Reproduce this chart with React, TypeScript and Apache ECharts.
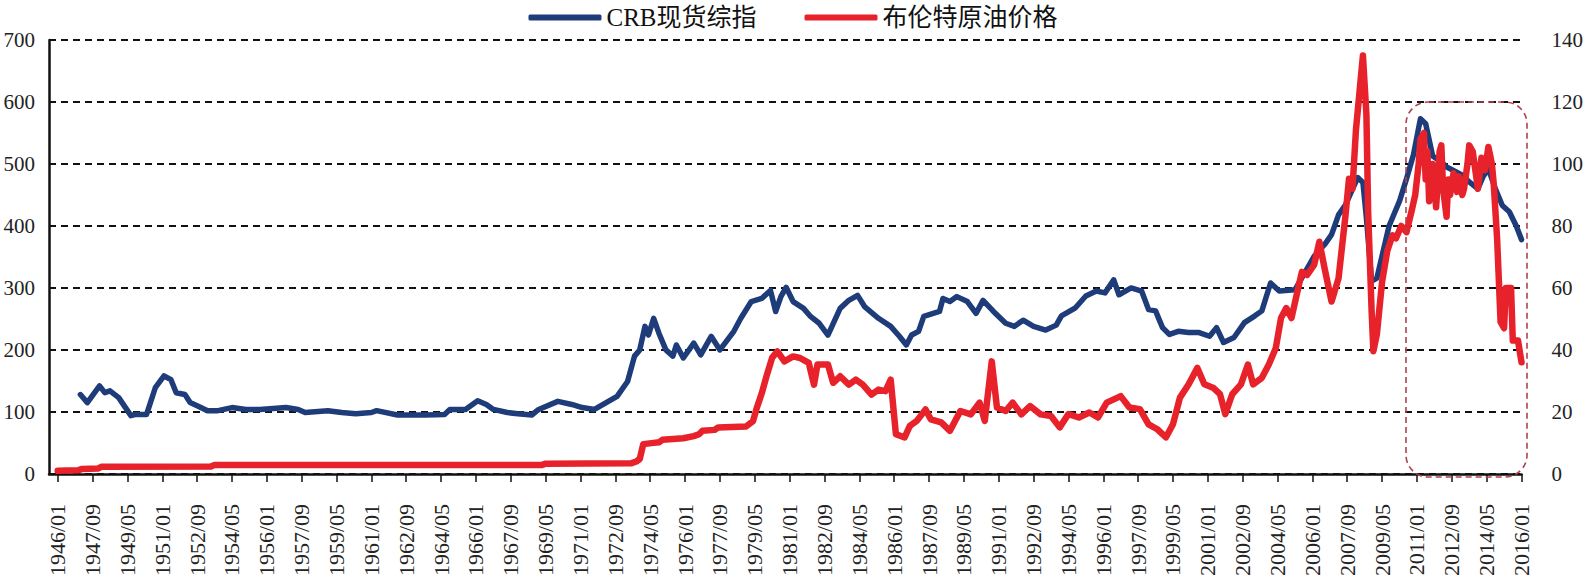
import React, { useEffect, useRef } from "react";
import * as echarts from "echarts";

// Monthly categories: axis starts a few months before the first labelled tick (1946/01)
const months: string[] = [];
for (let y = 1945; y <= 2016; y++) {
  for (let m = 1; m <= 12; m++) {
    if (y === 1945 && m < 8) continue;
    if (y === 2016 && m > 1) break;
    months.push(`${y}/${String(m).padStart(2, "0")}`);
  }
}
const FIRST_LABEL_INDEX = 5; // 1946/01
const LABEL_STEP = 20; // every 20 months

const legendNames = ["CRB现货综指", "布伦特原油价格"];

// CRB spot index (left axis)
const crbData: [string, number][] = [
  ["1947/02", 128], ["1947/06", 115], ["1948/01", 142], ["1948/04", 131], ["1948/07", 134],
  ["1948/12", 123], ["1949/07", 94], ["1949/10", 96], ["1950/04", 96], ["1950/09", 139],
  ["1951/02", 158], ["1951/06", 152], ["1951/09", 131], ["1952/02", 128], ["1952/05", 115],
  ["1952/09", 110], ["1953/03", 102], ["1953/09", 102], ["1954/05", 107], ["1955/01", 104],
  ["1955/09", 104], ["1956/12", 107], ["1957/07", 104], ["1957/11", 99], ["1958/12", 102],
  ["1959/08", 99], ["1960/04", 97], ["1961/01", 99], ["1961/04", 102], ["1962/04", 95],
  ["1963/08", 95], ["1964/07", 96], ["1964/10", 104], ["1965/07", 104], ["1966/02", 118],
  ["1966/07", 112], ["1966/11", 104], ["1967/07", 99], ["1968/01", 97], ["1968/09", 95],
  ["1969/01", 104], ["1969/12", 117], ["1970/08", 112], ["1971/02", 107], ["1971/09", 104],
  ["1972/05", 117], ["1972/10", 125], ["1973/04", 149], ["1973/08", 190], ["1973/11", 200],
  ["1974/02", 238], ["1974/04", 224], ["1974/07", 251], ["1974/10", 227], ["1975/02", 200],
  ["1975/06", 190], ["1975/08", 208], ["1975/12", 187], ["1976/06", 211], ["1976/10", 192],
  ["1977/04", 222], ["1977/09", 200], ["1978/05", 230], ["1978/09", 251], ["1979/03", 278],
  ["1979/09", 283], ["1980/02", 296], ["1980/05", 262], ["1980/08", 286], ["1980/11", 301],
  ["1981/03", 278], ["1981/09", 267], ["1982/01", 254], ["1982/06", 243], ["1982/11", 224],
  ["1983/06", 267], ["1983/11", 280], ["1984/04", 288], ["1984/08", 270], ["1985/04", 251],
  ["1985/11", 238], ["1986/04", 222], ["1986/08", 208], ["1986/11", 224], ["1987/03", 230],
  ["1987/06", 254], ["1988/03", 262], ["1988/05", 283], ["1988/09", 278], ["1989/01", 286],
  ["1989/07", 278], ["1989/12", 259], ["1990/04", 280], ["1990/10", 262], ["1991/05", 243],
  ["1991/10", 238], ["1992/03", 248], ["1992/09", 238], ["1993/04", 232], ["1993/10", 240],
  ["1994/01", 255], ["1994/09", 268], ["1995/03", 287], ["1995/09", 295], ["1996/02", 292],
  ["1996/07", 313], ["1996/10", 289], ["1997/05", 300], ["1997/11", 295], ["1998/03", 265],
  ["1998/07", 263], ["1998/11", 236], ["1999/03", 225], ["1999/08", 230], ["2000/02", 228],
  ["2000/08", 228], ["2001/02", 222], ["2001/06", 236], ["2001/10", 212], ["2002/04", 220],
  ["2002/10", 244], ["2003/04", 255], ["2003/08", 263], ["2004/01", 308], ["2004/06", 295],
  ["2005/03", 297], ["2006/02", 351], ["2006/08", 370], ["2006/12", 386], ["2007/04", 418],
  ["2007/08", 434], ["2007/11", 453], ["2008/03", 478], ["2008/06", 470], ["2008/08", 413],
  ["2008/11", 311], ["2009/02", 316], ["2009/06", 364], ["2009/09", 400], ["2009/12", 420],
  ["2010/03", 440], ["2010/07", 476], ["2010/11", 515], ["2011/03", 573], ["2011/06", 565],
  ["2011/10", 513], ["2012/03", 503], ["2012/06", 495], ["2012/11", 488], ["2013/03", 482],
  ["2013/07", 471], ["2013/12", 460], ["2014/03", 480], ["2014/06", 492], ["2014/10", 460],
  ["2015/02", 433], ["2015/06", 423], ["2015/10", 400], ["2016/01", 378],
];

// Brent crude price (right axis)
const brentData: [string, number][] = [
  ["1946/01", 1.0], ["1946/07", 1.1], ["1947/01", 1.2], ["1947/03", 1.6], ["1947/12", 1.7],
  ["1948/02", 2.3], ["1953/05", 2.4], ["1953/07", 2.9], ["1969/03", 2.9], ["1969/05", 3.3],
  ["1973/06", 3.4], ["1973/09", 4.0], ["1973/11", 4.8], ["1974/01", 9.6], ["1974/07", 10.0],
  ["1974/10", 10.2], ["1974/12", 11.0], ["1975/12", 11.5], ["1976/06", 12.2], ["1976/09", 12.8],
  ["1976/11", 13.9], ["1977/06", 14.2], ["1977/08", 15.0], ["1978/12", 15.3], ["1979/04", 17.0],
  ["1979/06", 21.0], ["1979/09", 26.0], ["1979/12", 32.0], ["1980/03", 37.5], ["1980/06", 39.5],
  ["1980/10", 36.3], ["1981/03", 37.9], ["1981/07", 37.4], ["1981/12", 35.8], ["1982/03", 28.8],
  ["1982/05", 35.3], ["1982/11", 35.3], ["1983/02", 29.4], ["1983/06", 31.5], ["1983/11", 28.8],
  ["1984/03", 30.4], ["1984/07", 28.8], ["1984/12", 25.6], ["1985/04", 27.2], ["1985/08", 26.7],
  ["1985/11", 30.4], ["1986/02", 12.8], ["1986/07", 11.8], ["1986/10", 15.5], ["1987/02", 17.1],
  ["1987/07", 20.8], ["1987/10", 17.6], ["1988/04", 16.6], ["1988/09", 13.9], ["1989/03", 20.3],
  ["1989/09", 19.2], ["1990/02", 23.0], ["1990/05", 17.1], ["1990/09", 36.3], ["1990/12", 21.4],
  ["1991/05", 20.3], ["1991/09", 23.0], ["1992/02", 19.2], ["1992/07", 21.9], ["1993/01", 19.2],
  ["1993/07", 18.7], ["1993/12", 15.0], ["1994/05", 19.3], ["1994/11", 18.2], ["1995/05", 19.8],
  ["1995/10", 18.2], ["1996/03", 23.0], ["1996/11", 25.1], ["1997/04", 21.4], ["1997/10", 20.9],
  ["1998/03", 16.0], ["1998/08", 14.4], ["1999/01", 11.8], ["1999/05", 16.0], ["1999/09", 24.6],
  ["2000/02", 28.9], ["2000/07", 34.2], ["2000/11", 28.9], ["2001/04", 27.8], ["2001/08", 25.7],
  ["2001/11", 19.3], ["2002/03", 25.7], ["2002/08", 28.9], ["2002/12", 35.3], ["2003/03", 28.9],
  ["2003/08", 31.0], ["2003/12", 35.3], ["2004/04", 40.6], ["2004/07", 50.3], ["2004/10", 53.5],
  ["2005/01", 50.3], ["2005/04", 57.8], ["2005/07", 65.2], ["2005/10", 64.2], ["2006/02", 67.4],
  ["2006/05", 74.9], ["2006/08", 66.3], ["2006/12", 55.6], ["2007/04", 63.1], ["2007/08", 83.4],
  ["2007/10", 95.2], ["2007/12", 92.0], ["2008/02", 111.0], ["2008/05", 129.0], ["2008/06", 135.0],
  ["2008/08", 116.0], ["2008/09", 84.5], ["2008/11", 52.4], ["2008/12", 39.6], ["2009/02", 45.0],
  ["2009/05", 62.0], ["2009/08", 72.0], ["2009/11", 77.0], ["2010/01", 76.0], ["2010/04", 80.0],
  ["2010/07", 78.0], ["2010/10", 85.0], ["2010/12", 90.0], ["2011/02", 100.0], ["2011/03", 108.0],
  ["2011/05", 110.0], ["2011/06", 95.0], ["2011/07", 104.0], ["2011/08", 88.0], ["2011/10", 100.0],
  ["2011/12", 86.0], ["2012/02", 104.0], ["2012/03", 106.0], ["2012/04", 92.0], ["2012/06", 83.0],
  ["2012/07", 95.0], ["2012/08", 90.0], ["2012/10", 97.0], ["2012/12", 91.0], ["2013/01", 96.0],
  ["2013/03", 90.0], ["2013/04", 92.0], ["2013/06", 100.0], ["2013/07", 106.0], ["2013/09", 104.0],
  ["2013/11", 96.0], ["2013/12", 92.0], ["2014/02", 102.0], ["2014/04", 98.0], ["2014/06", 105.5],
  ["2014/08", 100.0], ["2014/09", 94.0], ["2014/11", 76.0], ["2015/01", 49.0], ["2015/03", 47.0],
  ["2015/04", 60.0], ["2015/07", 60.0], ["2015/08", 43.0], ["2015/11", 43.0], ["2016/01", 36.0],
];

const SERIF = "'Liberation Serif', 'Times New Roman', 'Noto Sans CJK SC', serif";
const BLUE = "#1F3C7A";
const RED = "#E8222B";

const showLabel = (i: number) => i >= FIRST_LABEL_INDEX && (i - FIRST_LABEL_INDEX) % LABEL_STEP === 0;

export default function App() {
  const ref = useRef<HTMLDivElement>(null);
  useEffect(() => {
    if (!ref.current) return;
    const chart = echarts.init(ref.current, undefined, { renderer: "svg" });
    chart.setOption({
      animation: false,
      backgroundColor: "#ffffff",
      grid: { left: 49, right: 63, top: 40, bottom: 103, containLabel: false },
      legend: {
        top: 0,
        left: "center",
        icon: "roundRect",
        itemWidth: 73,
        itemHeight: 6,
        itemGap: 48,
        textStyle: { fontSize: 25, fontFamily: SERIF, color: "#111" },
        data: legendNames,
      },
      xAxis: {
        type: "category",
        data: months,
        boundaryGap: false,
        axisLine: { show: true, lineStyle: { color: "#111", width: 2.5 } },
        axisTick: { show: true, interval: (i: number) => showLabel(i), length: 8, lineStyle: { color: "#111", width: 1.5 } },
        axisLabel: {
          interval: (i: number) => showLabel(i),
          rotate: 90,
          margin: 30,
          fontSize: 22,
          fontFamily: SERIF,
          color: "#222",
        },
        splitLine: { show: false },
      },
      yAxis: [
        {
          type: "value",
          min: 0,
          max: 700,
          interval: 100,
          position: "left",
          axisLine: { show: true, lineStyle: { color: "#111", width: 2.5 } },
          axisTick: { show: false },
          axisLabel: { margin: 14, fontSize: 21, fontFamily: SERIF, color: "#222" },
          splitLine: { show: true, lineStyle: { color: "#111", width: 1.8, type: [7, 5] } },
        },
        {
          type: "value",
          min: 0,
          max: 140,
          interval: 20,
          position: "right",
          axisLine: { show: false },
          axisTick: { show: false },
          axisLabel: { margin: 30, fontSize: 21, fontFamily: SERIF, color: "#222" },
          splitLine: { show: false },
        },
      ],
      series: [
        {
          name: legendNames[0],
          type: "line",
          yAxisIndex: 0,
          data: crbData,
          showSymbol: false,
          symbol: "none",
          lineStyle: { color: BLUE, width: 5.5, join: "round", cap: "round" },
          itemStyle: { color: BLUE },
          z: 3,
        },
        {
          name: legendNames[1],
          type: "line",
          yAxisIndex: 1,
          data: brentData,
          showSymbol: false,
          symbol: "none",
          lineStyle: { color: RED, width: 6.5, join: "round", cap: "round" },
          itemStyle: { color: RED },
          z: 4,
        },
      ],
      graphic: [
        {
          type: "rect",
          shape: { x: 1406, y: 102, width: 121, height: 375, r: 22 },
          style: { fill: "none", stroke: "#B0424F", lineWidth: 1.6, lineDash: [6, 4] },
          z: 100,
        },
      ],
    });
    return () => chart.dispose();
  }, []);
  return (
    <div
      ref={ref}
      style={{ position: "fixed", left: 0, top: 0, width: 1586, height: 579, background: "#fff" }}
    />
  );
}
